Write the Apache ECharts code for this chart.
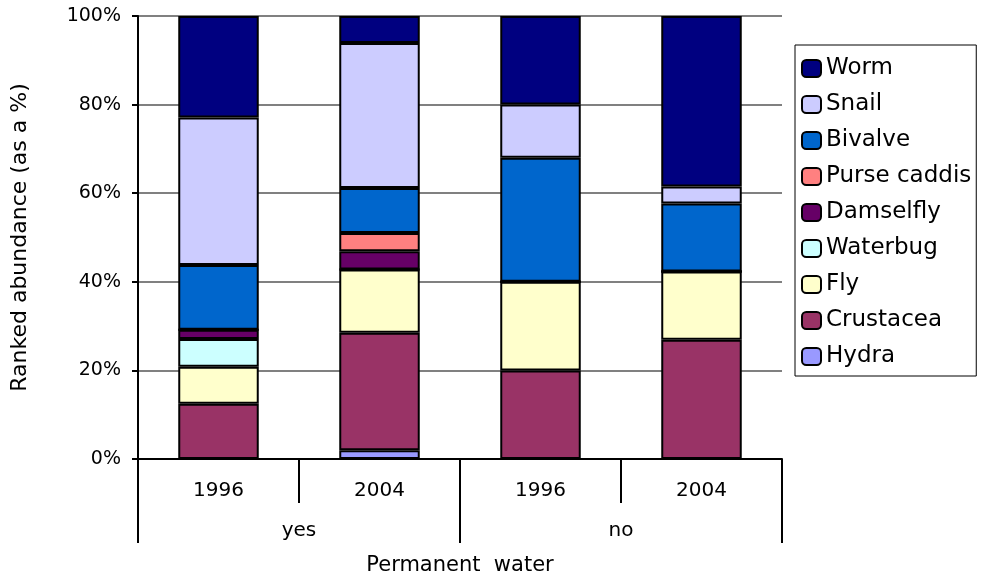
<!DOCTYPE html>
<html>
<head>
<meta charset="utf-8">
<script src="https://cdn.jsdelivr.net/npm/echarts@6/dist/echarts.min.js"></script>
<style>
  html, body { margin: 0; padding: 0; background: #fff; }
  #main { width: 982px; height: 575px; }
</style>
</head>
<body>
<div id="main"></div>
<script>
// categories
var years = ['1996', '2004', '1996', '2004'];
var groups = ['yes', 'no'];
var yTicks = [0, 20, 40, 60, 80, 100];

// ranked abundance, % of each bar (bottom to top)
var hydra       = [0,    2.0,  0,  0];
var crustacea   = [12.5, 26.5, 20, 26.9];
var fly         = [8.3,  14.3, 20, 15.4];
var waterbug    = [6.3,  0,    0,  0];
var damselfly   = [2.1,  4.1,  0,  0];
var purseCaddis = [0,    4.1,  0,  0];
var bivalve     = [14.6, 10.2, 28, 15.4];
var snail       = [33.3, 32.7, 12, 3.8];
var worm        = [22.9, 6.1,  20, 38.5];

var FONT = 'DejaVu Sans';

var seriesDefs = [
    ['Hydra', hydra, '#9999FF'],
    ['Crustacea', crustacea, '#993366'],
    ['Fly', fly, '#FFFFCC'],
    ['Waterbug', waterbug, '#CCFFFF'],
    ['Damselfly', damselfly, '#660066'],
    ['Purse caddis', purseCaddis, '#FF8080'],
    ['Bivalve', bivalve, '#0066CC'],
    ['Snail', snail, '#CCCCFF'],
    ['Worm', worm, '#000080']
];

var series = seriesDefs.map(function (d) {
    return {
        name: d[0],
        type: 'bar',
        stack: 'all',
        xAxisIndex: 0,
        barWidth: '50%',
        data: d[1],
        itemStyle: { color: d[2], borderColor: '#000', borderWidth: 2 },
        emphasis: { disabled: true }
    };
});

var myChart = echarts.init(document.getElementById('main'));
var option = {
    animation: false,
    textStyle: { fontFamily: FONT },
    grid: { left: 138, right: 200, top: 16, bottom: 116, outerBoundsMode: 'none', containLabel: false },
    legend: {
        orient: 'vertical',
        left: 795,
        top: 45,
        data: seriesDefs.map(function (d) { return d[0]; }).reverse(),
        itemWidth: 19,
        itemHeight: 17,
        itemGap: 13,
        padding: [12, 5, 8, 6],
        borderColor: '#000',
        borderWidth: 1,
        textStyle: { fontFamily: FONT, fontSize: 23, color: '#000' }
    },
    xAxis: [{
        type: 'category',
        data: years,
        position: 'bottom',
        axisLine: { lineStyle: { color: '#000', width: 2 } },
        axisTick: { show: true, alignWithLabel: false, interval: 0, length: 44, lineStyle: { color: '#000', width: 2 } },
        axisLabel: { fontSize: 20, color: '#000', margin: 22 }
    }, {
        type: 'category',
        data: groups,
        position: 'bottom',
        axisLine: { show: false },
        axisTick: { show: true, interval: 0, length: 84, lineStyle: { color: '#000', width: 2 } },
        axisLabel: { fontSize: 20, color: '#000', margin: 62 },
        name: 'Permanent  water',
        nameLocation: 'middle',
        nameGap: 96,
        nameTextStyle: { fontFamily: FONT, fontSize: 21, color: '#000' }
    }],
    yAxis: {
        type: 'value',
        min: yTicks[0],
        max: yTicks[yTicks.length - 1],
        interval: yTicks[1] - yTicks[0],
        axisLine: { show: true, lineStyle: { color: '#000', width: 2 } },
        axisTick: { show: true, length: 6, lineStyle: { color: '#000', width: 2 } },
        axisLabel: { formatter: '{value}%', fontSize: 19, color: '#000', margin: 17 },
        splitLine: { lineStyle: { color: '#808080', width: 2 } },
        name: 'Ranked abundance (as a %)',
        nameLocation: 'middle',
        nameGap: 107,
        nameTextStyle: { fontFamily: FONT, fontSize: 22, color: '#000' }
    },
    series: series
};
myChart.setOption(option);
</script>
</body>
</html>
